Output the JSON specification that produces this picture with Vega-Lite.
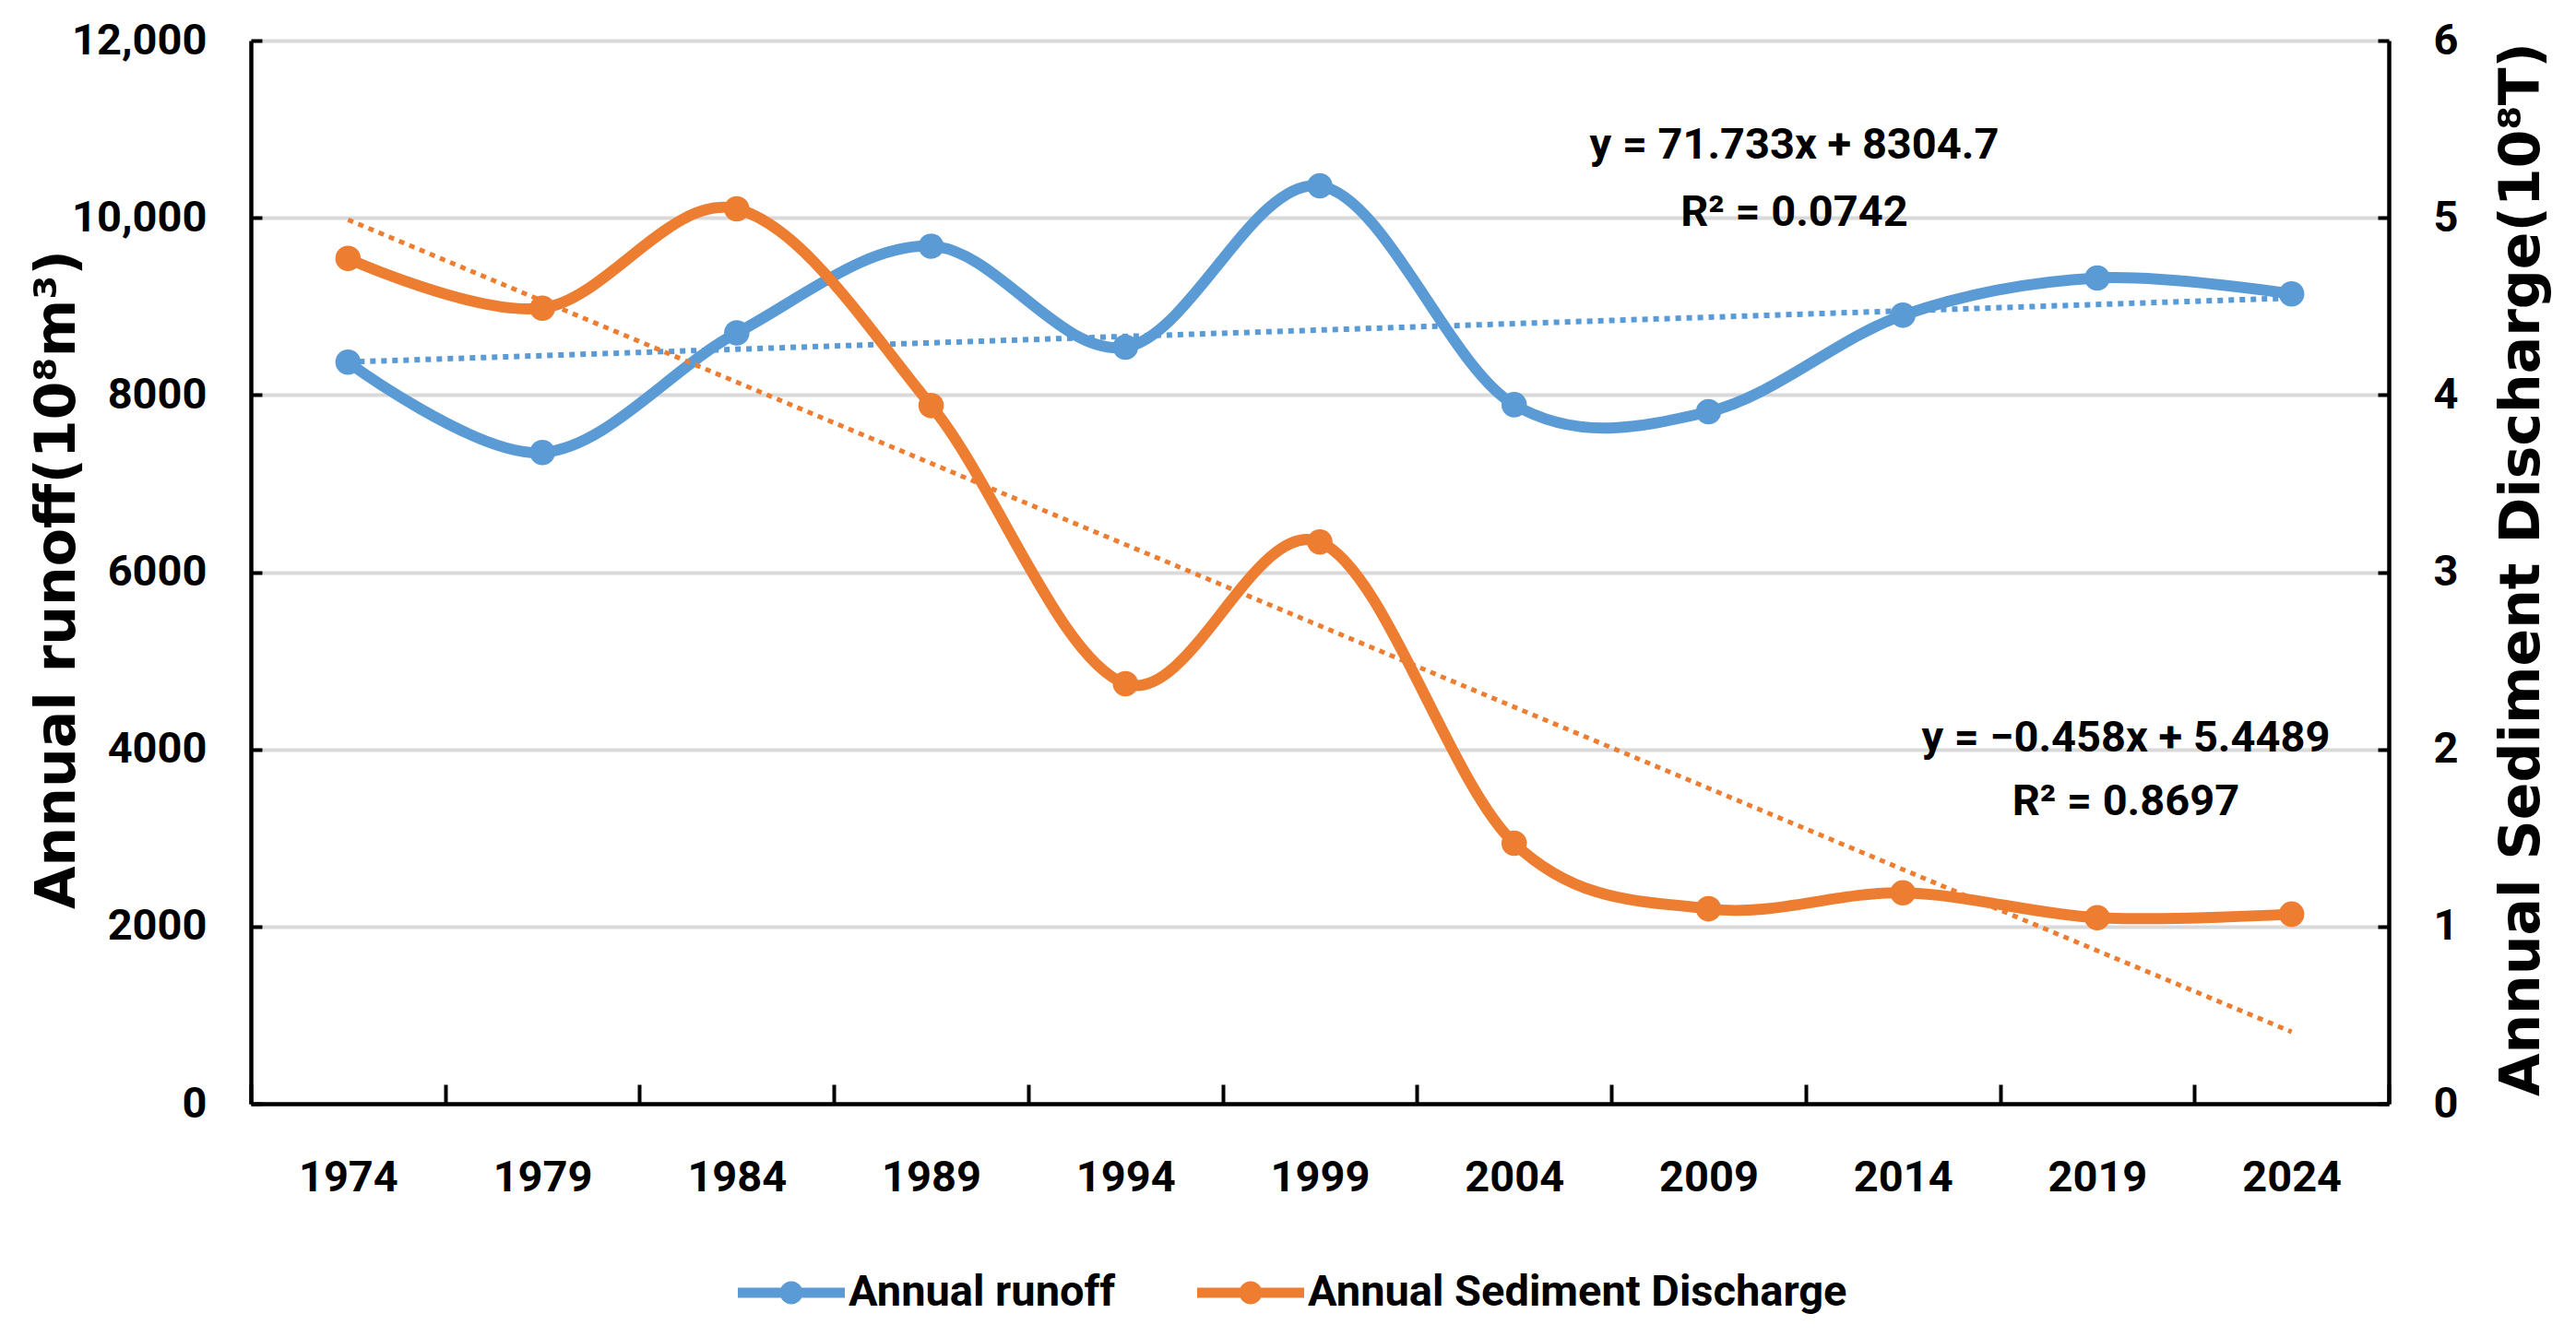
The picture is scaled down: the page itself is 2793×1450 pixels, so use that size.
{
  "$schema": "https://vega.github.io/schema/vega-lite/v6.json",
  "width": 2318,
  "height": 1153,
  "autosize": "none",
  "padding": {"left": 272, "top": 44, "right": 203, "bottom": 253},
  "background": "white",
  "datasets": {
    "series": [
      {"year": 1974, "series": "Annual runoff", "value": 8370},
      {"year": 1979, "series": "Annual runoff", "value": 7350},
      {"year": 1984, "series": "Annual runoff", "value": 8700},
      {"year": 1989, "series": "Annual runoff", "value": 9680},
      {"year": 1994, "series": "Annual runoff", "value": 8540},
      {"year": 1999, "series": "Annual runoff", "value": 10360},
      {"year": 2004, "series": "Annual runoff", "value": 7890},
      {"year": 2009, "series": "Annual runoff", "value": 7810},
      {"year": 2014, "series": "Annual runoff", "value": 8900},
      {"year": 2019, "series": "Annual runoff", "value": 9320},
      {"year": 2024, "series": "Annual runoff", "value": 9140},
      {"year": 1974, "series": "Annual Sediment Discharge", "value": 4.77},
      {"year": 1979, "series": "Annual Sediment Discharge", "value": 4.49},
      {"year": 1984, "series": "Annual Sediment Discharge", "value": 5.05},
      {"year": 1989, "series": "Annual Sediment Discharge", "value": 3.94},
      {"year": 1994, "series": "Annual Sediment Discharge", "value": 2.37},
      {"year": 1999, "series": "Annual Sediment Discharge", "value": 3.17},
      {"year": 2004, "series": "Annual Sediment Discharge", "value": 1.47},
      {"year": 2009, "series": "Annual Sediment Discharge", "value": 1.10},
      {"year": 2014, "series": "Annual Sediment Discharge", "value": 1.19},
      {"year": 2019, "series": "Annual Sediment Discharge", "value": 1.05},
      {"year": 2024, "series": "Annual Sediment Discharge", "value": 1.07}
    ],
    "notes": [
      {"series": "Annual runoff", "year": 2009, "value": 10814, "label": "y = 71.733x + 8304.7"},
      {"series": "Annual runoff", "year": 2009, "value": 10054, "label": "R² = 0.0742"},
      {"series": "Annual Sediment Discharge", "year": 2019, "value": 2.06, "label": "y = −0.458x + 5.4489"},
      {"series": "Annual Sediment Discharge", "year": 2019, "value": 1.70, "label": "R² = 0.8697"}
    ]
  },
  "config": {
    "view": {"stroke": null},
    "axis": {
      "labelFont": "Roboto, sans-serif",
      "labelFontWeight": "bold",
      "labelFontSize": 47,
      "labelColor": "#000000",
      "labelLimit": 0,
      "domainColor": "#000000",
      "domainWidth": 4.5,
      "tickColor": "#000000",
      "tickWidth": 4,
      "gridColor": "#d9d9d9",
      "gridWidth": 4,
      "titleFont": "DejaVu Sans, sans-serif",
      "titleFontWeight": "bold",
      "titleFontSize": 60,
      "titleColor": "#000000",
      "titleLimit": 0
    },
    "legend": {
      "labelFont": "Roboto, sans-serif",
      "labelFontWeight": "bold",
      "labelFontSize": 47,
      "labelColor": "#000000",
      "labelLimit": 0
    }
  },
  "encoding": {
    "x": {
      "field": "year",
      "type": "ordinal",
      "bandPosition": 0.5,
      "scale": {"type": "band", "paddingInner": 0, "paddingOuter": 0},
      "axis": {
        "title": null,
        "labelAngle": 0,
        "tickBand": "extent",
        "tickSize": -21,
        "labelPadding": 78,
        "grid": false
      }
    }
  },
  "layer": [
    {
      "encoding": {
        "y": {
          "field": "value",
          "type": "quantitative",
          "scale": {"domain": [0, 12000], "nice": false},
          "axis": {
            "orient": "left",
            "title": "Annual runoff(10⁸m³)",
            "values": [0, 2000, 4000, 6000, 8000, 10000, 12000],
            "labelExpr": "datum.value >= 10000 ? format(datum.value, ',') : format(datum.value, 'd')",
            "tickSize": -12,
            "labelPadding": 60,
            "grid": true,
            "titleAngle": 270,
            "titleX": -210,
            "titleY": 584,
            "titleAlign": "center",
            "titleBaseline": "middle"
          }
        }
      },
      "layer": [
        {
          "data": {"name": "series"},
          "transform": [{"filter": "datum.series === 'Annual runoff'"}, {"regression": "value", "on": "year", "groupby": ["series"]}],
          "mark": {"type": "line", "strokeWidth": 6, "strokeDash": [6, 6], "strokeCap": "butt"},
          "encoding": {
            "color": {"field": "series", "type": "nominal"}
          }
        },
        {
          "data": {"name": "series"},
          "transform": [{"filter": "datum.series === 'Annual runoff'"}],
          "mark": {"type": "line", "interpolate": "cardinal", "strokeWidth": 12, "strokeCap": "round", "strokeJoin": "round", "point": {"filled": true, "size": 760, "opacity": 1}},
          "encoding": {
            "color": {
              "field": "series",
              "type": "nominal",
              "scale": {"domain": ["Annual runoff", "Annual Sediment Discharge"], "range": ["#5B9BD5", "#ED7D31"]},
              "legend": {
                "title": null,
                "orient": "none",
                "direction": "horizontal",
                "legendX": 528,
                "legendY": 1300,
                "padding": 0,
                "columnPadding": 88,
                "labelOffset": 4,
                "symbolType": "M-1,-0.095H1V0.095H-1Z M0.215,0A0.215,0.215,0,1,1,-0.215,0A0.215,0.215,0,1,1,0.215,0Z",
                "symbolSize": 13456,
                "symbolStrokeWidth": 0,
                "symbolOpacity": 1,
                "encode": {
                  "symbols": {
                    "update": {
                      "fill": {"scale": "color", "field": "value"},
                      "stroke": {"value": "transparent"},
                      "opacity": {"value": 1}
                    }
                  }
                }
              }
            }
          }
        },
        {
          "data": {"name": "notes"},
          "transform": [{"filter": "datum.series === 'Annual runoff'"}],
          "mark": {"type": "text", "dx": 93, "align": "center", "baseline": "middle", "font": "Roboto, sans-serif", "fontWeight": "bold", "fontSize": 47, "color": "#000000"},
          "encoding": {"text": {"field": "label"}}
        }
      ]
    },
    {
      "encoding": {
        "y": {
          "field": "value",
          "type": "quantitative",
          "scale": {"domain": [0, 6], "nice": false},
          "axis": {
            "orient": "right",
            "title": "Annual Sediment Discharge(10⁸T)",
            "values": [0, 1, 2, 3, 4, 5, 6],
            "tickSize": -12,
            "labelPadding": 60,
            "grid": false,
            "titleAngle": 270,
            "titleX": 144,
            "titleY": 573,
            "titleAlign": "center",
            "titleBaseline": "middle"
          }
        }
      },
      "layer": [
        {
          "data": {"name": "series"},
          "transform": [{"filter": "datum.series === 'Annual Sediment Discharge'"}, {"regression": "value", "on": "year", "groupby": ["series"]}],
          "mark": {"type": "line", "strokeWidth": 5, "strokeDash": [6, 6], "strokeCap": "butt"},
          "encoding": {
            "color": {"field": "series", "type": "nominal"}
          }
        },
        {
          "data": {"name": "series"},
          "transform": [{"filter": "datum.series === 'Annual Sediment Discharge'"}],
          "mark": {"type": "line", "interpolate": "cardinal", "strokeWidth": 12, "strokeCap": "round", "strokeJoin": "round", "point": {"filled": true, "size": 760, "opacity": 1}},
          "encoding": {
            "color": {"field": "series", "type": "nominal"}
          }
        },
        {
          "data": {"name": "notes"},
          "transform": [{"filter": "datum.series === 'Annual Sediment Discharge'"}],
          "mark": {"type": "text", "dx": 31, "align": "center", "baseline": "middle", "font": "Roboto, sans-serif", "fontWeight": "bold", "fontSize": 47, "color": "#000000"},
          "encoding": {"text": {"field": "label"}}
        }
      ]
    }
  ],
  "resolve": {"scale": {"y": "independent"}}
}
